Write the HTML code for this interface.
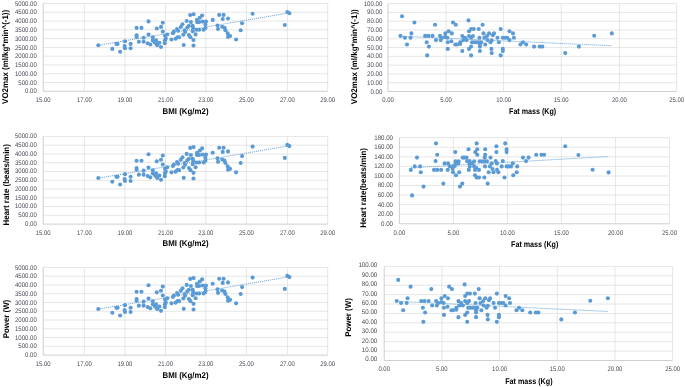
<!DOCTYPE html>
<html lang="en"><head><meta charset="utf-8"><title>Scatter plots</title>
<style>html,body{margin:0;padding:0;background:#fff}body{width:685px;height:387px;overflow:hidden}svg{display:block}text{text-rendering:geometricPrecision}.tk{font-family:"Liberation Sans",sans-serif;font-size:67px;fill:#474c55}.tt{font-family:"Liberation Sans",sans-serif;font-size:8.3px;font-weight:bold;fill:#000000}.gr{stroke:#DDDDDD;stroke-width:0.75;fill:none}.ax{stroke:#BFBFBF;stroke-width:0.75;fill:none}.pt{fill:#5B9BD5}.tl{stroke:#5B9BD5;stroke-width:0.95;stroke-dasharray:1 1;stroke-linecap:butt;fill:none}</style></head><body>
<svg width="685" height="387" viewBox="0 0 685 387">
<rect width="685" height="387" fill="#fff"/>
<g>
<line class="ax" x1="43.20" y1="91.30" x2="327.70" y2="91.30"/>
<line class="gr" x1="43.20" y1="82.52" x2="327.70" y2="82.52"/>
<line class="gr" x1="43.20" y1="73.74" x2="327.70" y2="73.74"/>
<line class="gr" x1="43.20" y1="64.96" x2="327.70" y2="64.96"/>
<line class="gr" x1="43.20" y1="56.18" x2="327.70" y2="56.18"/>
<line class="gr" x1="43.20" y1="47.40" x2="327.70" y2="47.40"/>
<line class="gr" x1="43.20" y1="38.62" x2="327.70" y2="38.62"/>
<line class="gr" x1="43.20" y1="29.84" x2="327.70" y2="29.84"/>
<line class="gr" x1="43.20" y1="21.06" x2="327.70" y2="21.06"/>
<line class="gr" x1="43.20" y1="12.28" x2="327.70" y2="12.28"/>
<line class="gr" x1="43.20" y1="3.50" x2="327.70" y2="3.50"/>
<line class="ax" x1="43.20" y1="3.50" x2="43.20" y2="91.30"/>
<line class="gr" x1="84.40" y1="3.50" x2="84.40" y2="91.30"/>
<line class="gr" x1="124.90" y1="3.50" x2="124.90" y2="91.30"/>
<line class="gr" x1="165.50" y1="3.50" x2="165.50" y2="91.30"/>
<line class="gr" x1="205.80" y1="3.50" x2="205.80" y2="91.30"/>
<line class="gr" x1="246.40" y1="3.50" x2="246.40" y2="91.30"/>
<line class="gr" x1="287.40" y1="3.50" x2="287.40" y2="91.30"/>
<line class="gr" x1="327.70" y1="3.50" x2="327.70" y2="91.30"/>
<text class="tk" text-anchor="end" transform="translate(36.80 93.40) scale(0.0900 0.1)">0.00</text>
<text class="tk" text-anchor="end" transform="translate(36.80 84.62) scale(0.0900 0.1)">500.00</text>
<text class="tk" text-anchor="end" transform="translate(36.80 75.84) scale(0.0900 0.1)">1000.00</text>
<text class="tk" text-anchor="end" transform="translate(36.80 67.06) scale(0.0900 0.1)">1500.00</text>
<text class="tk" text-anchor="end" transform="translate(36.80 58.28) scale(0.0900 0.1)">2000.00</text>
<text class="tk" text-anchor="end" transform="translate(36.80 49.50) scale(0.0900 0.1)">2500.00</text>
<text class="tk" text-anchor="end" transform="translate(36.80 40.72) scale(0.0900 0.1)">3000.00</text>
<text class="tk" text-anchor="end" transform="translate(36.80 31.94) scale(0.0900 0.1)">3500.00</text>
<text class="tk" text-anchor="end" transform="translate(36.80 23.16) scale(0.0900 0.1)">4000.00</text>
<text class="tk" text-anchor="end" transform="translate(36.80 14.38) scale(0.0900 0.1)">4500.00</text>
<text class="tk" text-anchor="end" transform="translate(36.80 5.60) scale(0.0900 0.1)">5000.00</text>
<text class="tk" text-anchor="middle" transform="translate(43.20 101.80) scale(0.0890 0.1)">15.00</text>
<text class="tk" text-anchor="middle" transform="translate(84.40 101.80) scale(0.0890 0.1)">17.00</text>
<text class="tk" text-anchor="middle" transform="translate(124.90 101.80) scale(0.0890 0.1)">19.00</text>
<text class="tk" text-anchor="middle" transform="translate(165.50 101.80) scale(0.0890 0.1)">21.00</text>
<text class="tk" text-anchor="middle" transform="translate(205.80 101.80) scale(0.0890 0.1)">23.00</text>
<text class="tk" text-anchor="middle" transform="translate(246.40 101.80) scale(0.0890 0.1)">25.00</text>
<text class="tk" text-anchor="middle" transform="translate(287.40 101.80) scale(0.0890 0.1)">27.00</text>
<text class="tk" text-anchor="middle" transform="translate(327.70 101.80) scale(0.0890 0.1)">29.00</text>
<text class="tt" x="162.60" y="113.90" textLength="46.00" lengthAdjust="spacingAndGlyphs">BMI (Kg/m2)</text>
<text class="tt" transform="translate(8.00 56.90) rotate(-90)" x="-47.00" y="0" textLength="94.00" lengthAdjust="spacingAndGlyphs">VO2max (ml/kg*min^(-1))</text>
<line class="tl" x1="98.30" y1="45.30" x2="289.20" y2="12.90"/>
<circle class="pt" cx="98.30" cy="45.20" r="2.05"/>
<circle class="pt" cx="112.30" cy="48.90" r="2.05"/>
<circle class="pt" cx="116.40" cy="43.90" r="2.05"/>
<circle class="pt" cx="117.60" cy="43.90" r="2.05"/>
<circle class="pt" cx="120.10" cy="51.70" r="2.05"/>
<circle class="pt" cx="125.00" cy="41.30" r="2.05"/>
<circle class="pt" cx="124.60" cy="46.10" r="2.05"/>
<circle class="pt" cx="125.00" cy="48.20" r="2.05"/>
<circle class="pt" cx="130.60" cy="43.90" r="2.05"/>
<circle class="pt" cx="130.60" cy="48.20" r="2.05"/>
<circle class="pt" cx="136.60" cy="27.90" r="2.05"/>
<circle class="pt" cx="141.50" cy="27.90" r="2.05"/>
<circle class="pt" cx="136.60" cy="35.20" r="2.05"/>
<circle class="pt" cx="136.60" cy="36.90" r="2.05"/>
<circle class="pt" cx="138.90" cy="41.80" r="2.05"/>
<circle class="pt" cx="143.60" cy="37.80" r="2.05"/>
<circle class="pt" cx="143.60" cy="41.80" r="2.05"/>
<circle class="pt" cx="148.50" cy="21.40" r="2.05"/>
<circle class="pt" cx="148.50" cy="34.60" r="2.05"/>
<circle class="pt" cx="147.70" cy="43.20" r="2.05"/>
<circle class="pt" cx="150.30" cy="44.50" r="2.05"/>
<circle class="pt" cx="152.80" cy="37.40" r="2.05"/>
<circle class="pt" cx="152.80" cy="40.40" r="2.05"/>
<circle class="pt" cx="154.70" cy="42.20" r="2.05"/>
<circle class="pt" cx="156.10" cy="40.40" r="2.05"/>
<circle class="pt" cx="156.40" cy="43.90" r="2.05"/>
<circle class="pt" cx="157.30" cy="45.20" r="2.05"/>
<circle class="pt" cx="159.40" cy="42.70" r="2.05"/>
<circle class="pt" cx="161.00" cy="47.00" r="2.05"/>
<circle class="pt" cx="156.80" cy="28.50" r="2.05"/>
<circle class="pt" cx="161.00" cy="26.90" r="2.05"/>
<circle class="pt" cx="162.80" cy="22.70" r="2.05"/>
<circle class="pt" cx="162.80" cy="31.60" r="2.05"/>
<circle class="pt" cx="165.00" cy="35.80" r="2.05"/>
<circle class="pt" cx="167.20" cy="34.50" r="2.05"/>
<circle class="pt" cx="165.80" cy="38.60" r="2.05"/>
<circle class="pt" cx="165.00" cy="40.30" r="2.05"/>
<circle class="pt" cx="164.80" cy="43.30" r="2.05"/>
<circle class="pt" cx="171.50" cy="39.50" r="2.05"/>
<circle class="pt" cx="172.90" cy="33.20" r="2.05"/>
<circle class="pt" cx="173.80" cy="31.60" r="2.05"/>
<circle class="pt" cx="175.60" cy="38.80" r="2.05"/>
<circle class="pt" cx="177.50" cy="37.30" r="2.05"/>
<circle class="pt" cx="179.10" cy="37.30" r="2.05"/>
<circle class="pt" cx="177.00" cy="29.10" r="2.05"/>
<circle class="pt" cx="178.10" cy="30.80" r="2.05"/>
<circle class="pt" cx="180.80" cy="27.00" r="2.05"/>
<circle class="pt" cx="182.50" cy="24.30" r="2.05"/>
<circle class="pt" cx="183.30" cy="34.70" r="2.05"/>
<circle class="pt" cx="183.70" cy="45.00" r="2.05"/>
<circle class="pt" cx="184.60" cy="30.20" r="2.05"/>
<circle class="pt" cx="185.10" cy="31.90" r="2.05"/>
<circle class="pt" cx="186.70" cy="21.00" r="2.05"/>
<circle class="pt" cx="187.30" cy="27.50" r="2.05"/>
<circle class="pt" cx="188.90" cy="25.90" r="2.05"/>
<circle class="pt" cx="188.90" cy="35.10" r="2.05"/>
<circle class="pt" cx="190.50" cy="37.30" r="2.05"/>
<circle class="pt" cx="190.20" cy="15.00" r="2.05"/>
<circle class="pt" cx="193.60" cy="14.20" r="2.05"/>
<circle class="pt" cx="190.90" cy="22.10" r="2.05"/>
<circle class="pt" cx="192.70" cy="25.90" r="2.05"/>
<circle class="pt" cx="193.20" cy="28.10" r="2.05"/>
<circle class="pt" cx="192.70" cy="31.30" r="2.05"/>
<circle class="pt" cx="193.50" cy="40.00" r="2.05"/>
<circle class="pt" cx="193.50" cy="45.60" r="2.05"/>
<circle class="pt" cx="195.60" cy="34.40" r="2.05"/>
<circle class="pt" cx="196.50" cy="29.70" r="2.05"/>
<circle class="pt" cx="197.00" cy="19.90" r="2.05"/>
<circle class="pt" cx="197.00" cy="22.10" r="2.05"/>
<circle class="pt" cx="199.20" cy="29.70" r="2.05"/>
<circle class="pt" cx="199.80" cy="17.70" r="2.05"/>
<circle class="pt" cx="199.20" cy="22.10" r="2.05"/>
<circle class="pt" cx="202.10" cy="15.50" r="2.05"/>
<circle class="pt" cx="202.70" cy="21.60" r="2.05"/>
<circle class="pt" cx="203.60" cy="29.70" r="2.05"/>
<circle class="pt" cx="205.40" cy="28.00" r="2.05"/>
<circle class="pt" cx="205.40" cy="24.50" r="2.05"/>
<circle class="pt" cx="206.00" cy="21.60" r="2.05"/>
<circle class="pt" cx="212.70" cy="19.90" r="2.05"/>
<circle class="pt" cx="217.50" cy="25.50" r="2.05"/>
<circle class="pt" cx="218.00" cy="29.00" r="2.05"/>
<circle class="pt" cx="219.20" cy="14.90" r="2.05"/>
<circle class="pt" cx="223.60" cy="14.90" r="2.05"/>
<circle class="pt" cx="222.70" cy="19.00" r="2.05"/>
<circle class="pt" cx="228.00" cy="18.50" r="2.05"/>
<circle class="pt" cx="222.20" cy="26.70" r="2.05"/>
<circle class="pt" cx="224.50" cy="27.80" r="2.05"/>
<circle class="pt" cx="225.40" cy="30.20" r="2.05"/>
<circle class="pt" cx="227.70" cy="33.40" r="2.05"/>
<circle class="pt" cx="228.00" cy="36.90" r="2.05"/>
<circle class="pt" cx="230.10" cy="36.00" r="2.05"/>
<circle class="pt" cx="236.10" cy="39.50" r="2.05"/>
<circle class="pt" cx="240.70" cy="30.20" r="2.05"/>
<circle class="pt" cx="242.10" cy="23.20" r="2.05"/>
<circle class="pt" cx="252.60" cy="13.70" r="2.05"/>
<circle class="pt" cx="287.30" cy="12.00" r="2.05"/>
<circle class="pt" cx="289.40" cy="13.20" r="2.05"/>
<circle class="pt" cx="284.80" cy="25.00" r="2.05"/>
</g>
<g>
<line class="ax" x1="43.20" y1="224.10" x2="327.70" y2="224.10"/>
<line class="gr" x1="43.20" y1="215.33" x2="327.70" y2="215.33"/>
<line class="gr" x1="43.20" y1="206.56" x2="327.70" y2="206.56"/>
<line class="gr" x1="43.20" y1="197.79" x2="327.70" y2="197.79"/>
<line class="gr" x1="43.20" y1="189.02" x2="327.70" y2="189.02"/>
<line class="gr" x1="43.20" y1="180.25" x2="327.70" y2="180.25"/>
<line class="gr" x1="43.20" y1="171.48" x2="327.70" y2="171.48"/>
<line class="gr" x1="43.20" y1="162.71" x2="327.70" y2="162.71"/>
<line class="gr" x1="43.20" y1="153.94" x2="327.70" y2="153.94"/>
<line class="gr" x1="43.20" y1="145.17" x2="327.70" y2="145.17"/>
<line class="gr" x1="43.20" y1="136.40" x2="327.70" y2="136.40"/>
<line class="ax" x1="43.20" y1="136.40" x2="43.20" y2="224.10"/>
<line class="gr" x1="84.40" y1="136.40" x2="84.40" y2="224.10"/>
<line class="gr" x1="124.90" y1="136.40" x2="124.90" y2="224.10"/>
<line class="gr" x1="165.50" y1="136.40" x2="165.50" y2="224.10"/>
<line class="gr" x1="205.80" y1="136.40" x2="205.80" y2="224.10"/>
<line class="gr" x1="246.40" y1="136.40" x2="246.40" y2="224.10"/>
<line class="gr" x1="287.40" y1="136.40" x2="287.40" y2="224.10"/>
<line class="gr" x1="327.70" y1="136.40" x2="327.70" y2="224.10"/>
<text class="tk" text-anchor="end" transform="translate(36.80 226.00) scale(0.0900 0.1)">0.00</text>
<text class="tk" text-anchor="end" transform="translate(36.80 217.23) scale(0.0900 0.1)">500.00</text>
<text class="tk" text-anchor="end" transform="translate(36.80 208.46) scale(0.0900 0.1)">1000.00</text>
<text class="tk" text-anchor="end" transform="translate(36.80 199.69) scale(0.0900 0.1)">1500.00</text>
<text class="tk" text-anchor="end" transform="translate(36.80 190.92) scale(0.0900 0.1)">2000.00</text>
<text class="tk" text-anchor="end" transform="translate(36.80 182.15) scale(0.0900 0.1)">2500.00</text>
<text class="tk" text-anchor="end" transform="translate(36.80 173.38) scale(0.0900 0.1)">3000.00</text>
<text class="tk" text-anchor="end" transform="translate(36.80 164.61) scale(0.0900 0.1)">3500.00</text>
<text class="tk" text-anchor="end" transform="translate(36.80 155.84) scale(0.0900 0.1)">4000.00</text>
<text class="tk" text-anchor="end" transform="translate(36.80 147.07) scale(0.0900 0.1)">4500.00</text>
<text class="tk" text-anchor="end" transform="translate(36.80 138.30) scale(0.0900 0.1)">5000.00</text>
<text class="tk" text-anchor="middle" transform="translate(43.20 234.50) scale(0.0890 0.1)">15.00</text>
<text class="tk" text-anchor="middle" transform="translate(84.40 234.50) scale(0.0890 0.1)">17.00</text>
<text class="tk" text-anchor="middle" transform="translate(124.90 234.50) scale(0.0890 0.1)">19.00</text>
<text class="tk" text-anchor="middle" transform="translate(165.50 234.50) scale(0.0890 0.1)">21.00</text>
<text class="tk" text-anchor="middle" transform="translate(205.80 234.50) scale(0.0890 0.1)">23.00</text>
<text class="tk" text-anchor="middle" transform="translate(246.40 234.50) scale(0.0890 0.1)">25.00</text>
<text class="tk" text-anchor="middle" transform="translate(287.40 234.50) scale(0.0890 0.1)">27.00</text>
<text class="tk" text-anchor="middle" transform="translate(327.70 234.50) scale(0.0890 0.1)">29.00</text>
<text class="tt" x="162.60" y="246.30" textLength="46.00" lengthAdjust="spacingAndGlyphs">BMI (Kg/m2)</text>
<text class="tt" transform="translate(8.80 184.90) rotate(-90)" x="-40.70" y="0" textLength="81.40" lengthAdjust="spacingAndGlyphs">Heart rate (beats/min)</text>
<line class="tl" x1="98.30" y1="178.15" x2="289.20" y2="145.79"/>
<circle class="pt" cx="98.30" cy="178.05" r="2.05"/>
<circle class="pt" cx="112.30" cy="181.75" r="2.05"/>
<circle class="pt" cx="116.40" cy="176.75" r="2.05"/>
<circle class="pt" cx="117.60" cy="176.75" r="2.05"/>
<circle class="pt" cx="120.10" cy="184.55" r="2.05"/>
<circle class="pt" cx="125.00" cy="174.16" r="2.05"/>
<circle class="pt" cx="124.60" cy="178.95" r="2.05"/>
<circle class="pt" cx="125.00" cy="181.05" r="2.05"/>
<circle class="pt" cx="130.60" cy="176.75" r="2.05"/>
<circle class="pt" cx="130.60" cy="181.05" r="2.05"/>
<circle class="pt" cx="136.60" cy="160.77" r="2.05"/>
<circle class="pt" cx="141.50" cy="160.77" r="2.05"/>
<circle class="pt" cx="136.60" cy="168.06" r="2.05"/>
<circle class="pt" cx="136.60" cy="169.76" r="2.05"/>
<circle class="pt" cx="138.90" cy="174.66" r="2.05"/>
<circle class="pt" cx="143.60" cy="170.66" r="2.05"/>
<circle class="pt" cx="143.60" cy="174.66" r="2.05"/>
<circle class="pt" cx="148.50" cy="154.28" r="2.05"/>
<circle class="pt" cx="148.50" cy="167.46" r="2.05"/>
<circle class="pt" cx="147.70" cy="176.05" r="2.05"/>
<circle class="pt" cx="150.30" cy="177.35" r="2.05"/>
<circle class="pt" cx="152.80" cy="170.26" r="2.05"/>
<circle class="pt" cx="152.80" cy="173.26" r="2.05"/>
<circle class="pt" cx="154.70" cy="175.06" r="2.05"/>
<circle class="pt" cx="156.10" cy="173.26" r="2.05"/>
<circle class="pt" cx="156.40" cy="176.75" r="2.05"/>
<circle class="pt" cx="157.30" cy="178.05" r="2.05"/>
<circle class="pt" cx="159.40" cy="175.56" r="2.05"/>
<circle class="pt" cx="161.00" cy="179.85" r="2.05"/>
<circle class="pt" cx="156.80" cy="161.37" r="2.05"/>
<circle class="pt" cx="161.00" cy="159.77" r="2.05"/>
<circle class="pt" cx="162.80" cy="155.58" r="2.05"/>
<circle class="pt" cx="162.80" cy="164.47" r="2.05"/>
<circle class="pt" cx="165.00" cy="168.66" r="2.05"/>
<circle class="pt" cx="167.20" cy="167.36" r="2.05"/>
<circle class="pt" cx="165.80" cy="171.46" r="2.05"/>
<circle class="pt" cx="165.00" cy="173.16" r="2.05"/>
<circle class="pt" cx="164.80" cy="176.15" r="2.05"/>
<circle class="pt" cx="171.50" cy="172.36" r="2.05"/>
<circle class="pt" cx="172.90" cy="166.07" r="2.05"/>
<circle class="pt" cx="173.80" cy="164.47" r="2.05"/>
<circle class="pt" cx="175.60" cy="171.66" r="2.05"/>
<circle class="pt" cx="177.50" cy="170.16" r="2.05"/>
<circle class="pt" cx="179.10" cy="170.16" r="2.05"/>
<circle class="pt" cx="177.00" cy="161.97" r="2.05"/>
<circle class="pt" cx="178.10" cy="163.67" r="2.05"/>
<circle class="pt" cx="180.80" cy="159.87" r="2.05"/>
<circle class="pt" cx="182.50" cy="157.18" r="2.05"/>
<circle class="pt" cx="183.30" cy="167.56" r="2.05"/>
<circle class="pt" cx="183.70" cy="177.85" r="2.05"/>
<circle class="pt" cx="184.60" cy="163.07" r="2.05"/>
<circle class="pt" cx="185.10" cy="164.77" r="2.05"/>
<circle class="pt" cx="186.70" cy="153.88" r="2.05"/>
<circle class="pt" cx="187.30" cy="160.37" r="2.05"/>
<circle class="pt" cx="188.90" cy="158.77" r="2.05"/>
<circle class="pt" cx="188.90" cy="167.96" r="2.05"/>
<circle class="pt" cx="190.50" cy="170.16" r="2.05"/>
<circle class="pt" cx="190.20" cy="147.89" r="2.05"/>
<circle class="pt" cx="193.60" cy="147.09" r="2.05"/>
<circle class="pt" cx="190.90" cy="154.98" r="2.05"/>
<circle class="pt" cx="192.70" cy="158.77" r="2.05"/>
<circle class="pt" cx="193.20" cy="160.97" r="2.05"/>
<circle class="pt" cx="192.70" cy="164.17" r="2.05"/>
<circle class="pt" cx="193.50" cy="172.86" r="2.05"/>
<circle class="pt" cx="193.50" cy="178.45" r="2.05"/>
<circle class="pt" cx="195.60" cy="167.26" r="2.05"/>
<circle class="pt" cx="196.50" cy="162.57" r="2.05"/>
<circle class="pt" cx="197.00" cy="152.78" r="2.05"/>
<circle class="pt" cx="197.00" cy="154.98" r="2.05"/>
<circle class="pt" cx="199.20" cy="162.57" r="2.05"/>
<circle class="pt" cx="199.80" cy="150.58" r="2.05"/>
<circle class="pt" cx="199.20" cy="154.98" r="2.05"/>
<circle class="pt" cx="202.10" cy="148.39" r="2.05"/>
<circle class="pt" cx="202.70" cy="154.48" r="2.05"/>
<circle class="pt" cx="203.60" cy="162.57" r="2.05"/>
<circle class="pt" cx="205.40" cy="160.87" r="2.05"/>
<circle class="pt" cx="205.40" cy="157.38" r="2.05"/>
<circle class="pt" cx="206.00" cy="154.48" r="2.05"/>
<circle class="pt" cx="212.70" cy="152.78" r="2.05"/>
<circle class="pt" cx="217.50" cy="158.37" r="2.05"/>
<circle class="pt" cx="218.00" cy="161.87" r="2.05"/>
<circle class="pt" cx="219.20" cy="147.79" r="2.05"/>
<circle class="pt" cx="223.60" cy="147.79" r="2.05"/>
<circle class="pt" cx="222.70" cy="151.88" r="2.05"/>
<circle class="pt" cx="228.00" cy="151.38" r="2.05"/>
<circle class="pt" cx="222.20" cy="159.57" r="2.05"/>
<circle class="pt" cx="224.50" cy="160.67" r="2.05"/>
<circle class="pt" cx="225.40" cy="163.07" r="2.05"/>
<circle class="pt" cx="227.70" cy="166.27" r="2.05"/>
<circle class="pt" cx="228.00" cy="169.76" r="2.05"/>
<circle class="pt" cx="230.10" cy="168.86" r="2.05"/>
<circle class="pt" cx="236.10" cy="172.36" r="2.05"/>
<circle class="pt" cx="240.70" cy="163.07" r="2.05"/>
<circle class="pt" cx="242.10" cy="156.08" r="2.05"/>
<circle class="pt" cx="252.60" cy="146.59" r="2.05"/>
<circle class="pt" cx="287.30" cy="144.89" r="2.05"/>
<circle class="pt" cx="289.40" cy="146.09" r="2.05"/>
<circle class="pt" cx="284.80" cy="157.88" r="2.05"/>
</g>
<g>
<line class="ax" x1="43.20" y1="355.10" x2="327.70" y2="355.10"/>
<line class="gr" x1="43.20" y1="346.33" x2="327.70" y2="346.33"/>
<line class="gr" x1="43.20" y1="337.56" x2="327.70" y2="337.56"/>
<line class="gr" x1="43.20" y1="328.79" x2="327.70" y2="328.79"/>
<line class="gr" x1="43.20" y1="320.02" x2="327.70" y2="320.02"/>
<line class="gr" x1="43.20" y1="311.25" x2="327.70" y2="311.25"/>
<line class="gr" x1="43.20" y1="302.48" x2="327.70" y2="302.48"/>
<line class="gr" x1="43.20" y1="293.71" x2="327.70" y2="293.71"/>
<line class="gr" x1="43.20" y1="284.94" x2="327.70" y2="284.94"/>
<line class="gr" x1="43.20" y1="276.17" x2="327.70" y2="276.17"/>
<line class="gr" x1="43.20" y1="267.40" x2="327.70" y2="267.40"/>
<line class="ax" x1="43.20" y1="267.40" x2="43.20" y2="355.10"/>
<line class="gr" x1="84.40" y1="267.40" x2="84.40" y2="355.10"/>
<line class="gr" x1="124.90" y1="267.40" x2="124.90" y2="355.10"/>
<line class="gr" x1="165.50" y1="267.40" x2="165.50" y2="355.10"/>
<line class="gr" x1="205.80" y1="267.40" x2="205.80" y2="355.10"/>
<line class="gr" x1="246.40" y1="267.40" x2="246.40" y2="355.10"/>
<line class="gr" x1="287.40" y1="267.40" x2="287.40" y2="355.10"/>
<line class="gr" x1="327.70" y1="267.40" x2="327.70" y2="355.10"/>
<text class="tk" text-anchor="end" transform="translate(36.80 357.20) scale(0.0900 0.1)">0.00</text>
<text class="tk" text-anchor="end" transform="translate(36.80 348.43) scale(0.0900 0.1)">500.00</text>
<text class="tk" text-anchor="end" transform="translate(36.80 339.66) scale(0.0900 0.1)">1000.00</text>
<text class="tk" text-anchor="end" transform="translate(36.80 330.89) scale(0.0900 0.1)">1500.00</text>
<text class="tk" text-anchor="end" transform="translate(36.80 322.12) scale(0.0900 0.1)">2000.00</text>
<text class="tk" text-anchor="end" transform="translate(36.80 313.35) scale(0.0900 0.1)">2500.00</text>
<text class="tk" text-anchor="end" transform="translate(36.80 304.58) scale(0.0900 0.1)">3000.00</text>
<text class="tk" text-anchor="end" transform="translate(36.80 295.81) scale(0.0900 0.1)">3500.00</text>
<text class="tk" text-anchor="end" transform="translate(36.80 287.04) scale(0.0900 0.1)">4000.00</text>
<text class="tk" text-anchor="end" transform="translate(36.80 278.27) scale(0.0900 0.1)">4500.00</text>
<text class="tk" text-anchor="end" transform="translate(36.80 269.50) scale(0.0900 0.1)">5000.00</text>
<text class="tk" text-anchor="middle" transform="translate(43.20 365.80) scale(0.0890 0.1)">15.00</text>
<text class="tk" text-anchor="middle" transform="translate(84.40 365.80) scale(0.0890 0.1)">17.00</text>
<text class="tk" text-anchor="middle" transform="translate(124.90 365.80) scale(0.0890 0.1)">19.00</text>
<text class="tk" text-anchor="middle" transform="translate(165.50 365.80) scale(0.0890 0.1)">21.00</text>
<text class="tk" text-anchor="middle" transform="translate(205.80 365.80) scale(0.0890 0.1)">23.00</text>
<text class="tk" text-anchor="middle" transform="translate(246.40 365.80) scale(0.0890 0.1)">25.00</text>
<text class="tk" text-anchor="middle" transform="translate(287.40 365.80) scale(0.0890 0.1)">27.00</text>
<text class="tk" text-anchor="middle" transform="translate(327.70 365.80) scale(0.0890 0.1)">29.00</text>
<text class="tt" x="162.60" y="377.90" textLength="46.00" lengthAdjust="spacingAndGlyphs">BMI (Kg/m2)</text>
<text class="tt" transform="translate(8.80 319.00) rotate(-90)" x="-19.20" y="0" textLength="38.40" lengthAdjust="spacingAndGlyphs">Power (W)</text>
<line class="tl" x1="98.30" y1="309.15" x2="289.20" y2="276.79"/>
<circle class="pt" cx="98.30" cy="309.05" r="2.05"/>
<circle class="pt" cx="112.30" cy="312.75" r="2.05"/>
<circle class="pt" cx="116.40" cy="307.75" r="2.05"/>
<circle class="pt" cx="117.60" cy="307.75" r="2.05"/>
<circle class="pt" cx="120.10" cy="315.55" r="2.05"/>
<circle class="pt" cx="125.00" cy="305.16" r="2.05"/>
<circle class="pt" cx="124.60" cy="309.95" r="2.05"/>
<circle class="pt" cx="125.00" cy="312.05" r="2.05"/>
<circle class="pt" cx="130.60" cy="307.75" r="2.05"/>
<circle class="pt" cx="130.60" cy="312.05" r="2.05"/>
<circle class="pt" cx="136.60" cy="291.77" r="2.05"/>
<circle class="pt" cx="141.50" cy="291.77" r="2.05"/>
<circle class="pt" cx="136.60" cy="299.06" r="2.05"/>
<circle class="pt" cx="136.60" cy="300.76" r="2.05"/>
<circle class="pt" cx="138.90" cy="305.66" r="2.05"/>
<circle class="pt" cx="143.60" cy="301.66" r="2.05"/>
<circle class="pt" cx="143.60" cy="305.66" r="2.05"/>
<circle class="pt" cx="148.50" cy="285.28" r="2.05"/>
<circle class="pt" cx="148.50" cy="298.46" r="2.05"/>
<circle class="pt" cx="147.70" cy="307.05" r="2.05"/>
<circle class="pt" cx="150.30" cy="308.35" r="2.05"/>
<circle class="pt" cx="152.80" cy="301.26" r="2.05"/>
<circle class="pt" cx="152.80" cy="304.26" r="2.05"/>
<circle class="pt" cx="154.70" cy="306.06" r="2.05"/>
<circle class="pt" cx="156.10" cy="304.26" r="2.05"/>
<circle class="pt" cx="156.40" cy="307.75" r="2.05"/>
<circle class="pt" cx="157.30" cy="309.05" r="2.05"/>
<circle class="pt" cx="159.40" cy="306.56" r="2.05"/>
<circle class="pt" cx="161.00" cy="310.85" r="2.05"/>
<circle class="pt" cx="156.80" cy="292.37" r="2.05"/>
<circle class="pt" cx="161.00" cy="290.77" r="2.05"/>
<circle class="pt" cx="162.80" cy="286.58" r="2.05"/>
<circle class="pt" cx="162.80" cy="295.47" r="2.05"/>
<circle class="pt" cx="165.00" cy="299.66" r="2.05"/>
<circle class="pt" cx="167.20" cy="298.36" r="2.05"/>
<circle class="pt" cx="165.80" cy="302.46" r="2.05"/>
<circle class="pt" cx="165.00" cy="304.16" r="2.05"/>
<circle class="pt" cx="164.80" cy="307.15" r="2.05"/>
<circle class="pt" cx="171.50" cy="303.36" r="2.05"/>
<circle class="pt" cx="172.90" cy="297.07" r="2.05"/>
<circle class="pt" cx="173.80" cy="295.47" r="2.05"/>
<circle class="pt" cx="175.60" cy="302.66" r="2.05"/>
<circle class="pt" cx="177.50" cy="301.16" r="2.05"/>
<circle class="pt" cx="179.10" cy="301.16" r="2.05"/>
<circle class="pt" cx="177.00" cy="292.97" r="2.05"/>
<circle class="pt" cx="178.10" cy="294.67" r="2.05"/>
<circle class="pt" cx="180.80" cy="290.87" r="2.05"/>
<circle class="pt" cx="182.50" cy="288.18" r="2.05"/>
<circle class="pt" cx="183.30" cy="298.56" r="2.05"/>
<circle class="pt" cx="183.70" cy="308.85" r="2.05"/>
<circle class="pt" cx="184.60" cy="294.07" r="2.05"/>
<circle class="pt" cx="185.10" cy="295.77" r="2.05"/>
<circle class="pt" cx="186.70" cy="284.88" r="2.05"/>
<circle class="pt" cx="187.30" cy="291.37" r="2.05"/>
<circle class="pt" cx="188.90" cy="289.77" r="2.05"/>
<circle class="pt" cx="188.90" cy="298.96" r="2.05"/>
<circle class="pt" cx="190.50" cy="301.16" r="2.05"/>
<circle class="pt" cx="190.20" cy="278.89" r="2.05"/>
<circle class="pt" cx="193.60" cy="278.09" r="2.05"/>
<circle class="pt" cx="190.90" cy="285.98" r="2.05"/>
<circle class="pt" cx="192.70" cy="289.77" r="2.05"/>
<circle class="pt" cx="193.20" cy="291.97" r="2.05"/>
<circle class="pt" cx="192.70" cy="295.17" r="2.05"/>
<circle class="pt" cx="193.50" cy="303.86" r="2.05"/>
<circle class="pt" cx="193.50" cy="309.45" r="2.05"/>
<circle class="pt" cx="195.60" cy="298.26" r="2.05"/>
<circle class="pt" cx="196.50" cy="293.57" r="2.05"/>
<circle class="pt" cx="197.00" cy="283.78" r="2.05"/>
<circle class="pt" cx="197.00" cy="285.98" r="2.05"/>
<circle class="pt" cx="199.20" cy="293.57" r="2.05"/>
<circle class="pt" cx="199.80" cy="281.58" r="2.05"/>
<circle class="pt" cx="199.20" cy="285.98" r="2.05"/>
<circle class="pt" cx="202.10" cy="279.39" r="2.05"/>
<circle class="pt" cx="202.70" cy="285.48" r="2.05"/>
<circle class="pt" cx="203.60" cy="293.57" r="2.05"/>
<circle class="pt" cx="205.40" cy="291.87" r="2.05"/>
<circle class="pt" cx="205.40" cy="288.38" r="2.05"/>
<circle class="pt" cx="206.00" cy="285.48" r="2.05"/>
<circle class="pt" cx="212.70" cy="283.78" r="2.05"/>
<circle class="pt" cx="217.50" cy="289.37" r="2.05"/>
<circle class="pt" cx="218.00" cy="292.87" r="2.05"/>
<circle class="pt" cx="219.20" cy="278.79" r="2.05"/>
<circle class="pt" cx="223.60" cy="278.79" r="2.05"/>
<circle class="pt" cx="222.70" cy="282.88" r="2.05"/>
<circle class="pt" cx="228.00" cy="282.38" r="2.05"/>
<circle class="pt" cx="222.20" cy="290.57" r="2.05"/>
<circle class="pt" cx="224.50" cy="291.67" r="2.05"/>
<circle class="pt" cx="225.40" cy="294.07" r="2.05"/>
<circle class="pt" cx="227.70" cy="297.27" r="2.05"/>
<circle class="pt" cx="228.00" cy="300.76" r="2.05"/>
<circle class="pt" cx="230.10" cy="299.86" r="2.05"/>
<circle class="pt" cx="236.10" cy="303.36" r="2.05"/>
<circle class="pt" cx="240.70" cy="294.07" r="2.05"/>
<circle class="pt" cx="242.10" cy="287.08" r="2.05"/>
<circle class="pt" cx="252.60" cy="277.59" r="2.05"/>
<circle class="pt" cx="287.30" cy="275.89" r="2.05"/>
<circle class="pt" cx="289.40" cy="277.09" r="2.05"/>
<circle class="pt" cx="284.80" cy="288.88" r="2.05"/>
</g>
<g>
<line class="ax" x1="388.00" y1="91.50" x2="676.60" y2="91.50"/>
<line class="gr" x1="388.00" y1="82.71" x2="676.60" y2="82.71"/>
<line class="gr" x1="388.00" y1="73.92" x2="676.60" y2="73.92"/>
<line class="gr" x1="388.00" y1="65.13" x2="676.60" y2="65.13"/>
<line class="gr" x1="388.00" y1="56.34" x2="676.60" y2="56.34"/>
<line class="gr" x1="388.00" y1="47.55" x2="676.60" y2="47.55"/>
<line class="gr" x1="388.00" y1="38.76" x2="676.60" y2="38.76"/>
<line class="gr" x1="388.00" y1="29.97" x2="676.60" y2="29.97"/>
<line class="gr" x1="388.00" y1="21.18" x2="676.60" y2="21.18"/>
<line class="gr" x1="388.00" y1="12.39" x2="676.60" y2="12.39"/>
<line class="gr" x1="388.00" y1="3.60" x2="676.60" y2="3.60"/>
<line class="ax" x1="388.00" y1="3.60" x2="388.00" y2="91.50"/>
<line class="gr" x1="446.00" y1="3.60" x2="446.00" y2="91.50"/>
<line class="gr" x1="503.60" y1="3.60" x2="503.60" y2="91.50"/>
<line class="gr" x1="561.20" y1="3.60" x2="561.20" y2="91.50"/>
<line class="gr" x1="619.40" y1="3.60" x2="619.40" y2="91.50"/>
<line class="gr" x1="676.60" y1="3.60" x2="676.60" y2="91.50"/>
<text class="tk" text-anchor="end" transform="translate(382.40 93.60) scale(0.0915 0.1)">0.00</text>
<text class="tk" text-anchor="end" transform="translate(382.40 84.81) scale(0.0915 0.1)">10.00</text>
<text class="tk" text-anchor="end" transform="translate(382.40 76.02) scale(0.0915 0.1)">20.00</text>
<text class="tk" text-anchor="end" transform="translate(382.40 67.23) scale(0.0915 0.1)">30.00</text>
<text class="tk" text-anchor="end" transform="translate(382.40 58.44) scale(0.0915 0.1)">40.00</text>
<text class="tk" text-anchor="end" transform="translate(382.40 49.65) scale(0.0915 0.1)">50.00</text>
<text class="tk" text-anchor="end" transform="translate(382.40 40.86) scale(0.0915 0.1)">60.00</text>
<text class="tk" text-anchor="end" transform="translate(382.40 32.07) scale(0.0915 0.1)">70.00</text>
<text class="tk" text-anchor="end" transform="translate(382.40 23.28) scale(0.0915 0.1)">80.00</text>
<text class="tk" text-anchor="end" transform="translate(382.40 14.49) scale(0.0915 0.1)">90.00</text>
<text class="tk" text-anchor="end" transform="translate(382.40 5.70) scale(0.0915 0.1)">100.00</text>
<text class="tk" text-anchor="middle" transform="translate(388.00 101.60) scale(0.0890 0.1)">0.00</text>
<text class="tk" text-anchor="middle" transform="translate(446.00 101.60) scale(0.0890 0.1)">5.00</text>
<text class="tk" text-anchor="middle" transform="translate(503.60 101.60) scale(0.0890 0.1)">10.00</text>
<text class="tk" text-anchor="middle" transform="translate(561.20 101.60) scale(0.0890 0.1)">15.00</text>
<text class="tk" text-anchor="middle" transform="translate(619.40 101.60) scale(0.0890 0.1)">20.00</text>
<text class="tk" text-anchor="middle" transform="translate(676.60 101.60) scale(0.0890 0.1)">25.00</text>
<text class="tt" x="509.05" y="113.60" textLength="47.10" lengthAdjust="spacingAndGlyphs">Fat mass (Kg)</text>
<text class="tt" transform="translate(357.20 56.75) rotate(-90)" x="-47.45" y="0" textLength="94.90" lengthAdjust="spacingAndGlyphs">VO2max (ml/kg*min^(-1))</text>
<line class="tl" x1="400.50" y1="36.20" x2="611.50" y2="45.70"/>
<circle class="pt" cx="402.05" cy="16.20" r="2.05"/>
<circle class="pt" cx="414.40" cy="22.50" r="2.05"/>
<circle class="pt" cx="400.50" cy="35.90" r="2.05"/>
<circle class="pt" cx="404.90" cy="37.80" r="2.05"/>
<circle class="pt" cx="407.00" cy="44.50" r="2.05"/>
<circle class="pt" cx="411.40" cy="33.40" r="2.05"/>
<circle class="pt" cx="410.50" cy="37.80" r="2.05"/>
<circle class="pt" cx="425.10" cy="35.90" r="2.05"/>
<circle class="pt" cx="428.40" cy="35.90" r="2.05"/>
<circle class="pt" cx="426.70" cy="42.20" r="2.05"/>
<circle class="pt" cx="428.90" cy="46.60" r="2.05"/>
<circle class="pt" cx="427.20" cy="55.40" r="2.05"/>
<circle class="pt" cx="432.50" cy="35.90" r="2.05"/>
<circle class="pt" cx="435.10" cy="24.80" r="2.05"/>
<circle class="pt" cx="436.00" cy="40.10" r="2.05"/>
<circle class="pt" cx="440.00" cy="35.90" r="2.05"/>
<circle class="pt" cx="440.70" cy="40.10" r="2.05"/>
<circle class="pt" cx="442.10" cy="37.80" r="2.05"/>
<circle class="pt" cx="445.30" cy="33.40" r="2.05"/>
<circle class="pt" cx="445.30" cy="36.90" r="2.05"/>
<circle class="pt" cx="447.40" cy="37.80" r="2.05"/>
<circle class="pt" cx="448.60" cy="31.30" r="2.05"/>
<circle class="pt" cx="447.80" cy="42.20" r="2.05"/>
<circle class="pt" cx="447.80" cy="48.90" r="2.05"/>
<circle class="pt" cx="451.80" cy="33.40" r="2.05"/>
<circle class="pt" cx="451.40" cy="41.30" r="2.05"/>
<circle class="pt" cx="453.00" cy="22.50" r="2.05"/>
<circle class="pt" cx="455.80" cy="24.80" r="2.05"/>
<circle class="pt" cx="455.30" cy="44.50" r="2.05"/>
<circle class="pt" cx="457.00" cy="44.50" r="2.05"/>
<circle class="pt" cx="460.20" cy="42.20" r="2.05"/>
<circle class="pt" cx="460.20" cy="44.00" r="2.05"/>
<circle class="pt" cx="462.30" cy="36.00" r="2.05"/>
<circle class="pt" cx="463.20" cy="40.10" r="2.05"/>
<circle class="pt" cx="462.30" cy="51.00" r="2.05"/>
<circle class="pt" cx="465.00" cy="37.80" r="2.05"/>
<circle class="pt" cx="466.70" cy="40.10" r="2.05"/>
<circle class="pt" cx="468.50" cy="20.40" r="2.05"/>
<circle class="pt" cx="469.00" cy="31.30" r="2.05"/>
<circle class="pt" cx="469.00" cy="36.00" r="2.05"/>
<circle class="pt" cx="469.00" cy="48.90" r="2.05"/>
<circle class="pt" cx="471.10" cy="29.00" r="2.05"/>
<circle class="pt" cx="471.10" cy="37.80" r="2.05"/>
<circle class="pt" cx="471.10" cy="46.60" r="2.05"/>
<circle class="pt" cx="471.10" cy="55.40" r="2.05"/>
<circle class="pt" cx="472.00" cy="42.20" r="2.05"/>
<circle class="pt" cx="473.80" cy="29.00" r="2.05"/>
<circle class="pt" cx="472.90" cy="36.00" r="2.05"/>
<circle class="pt" cx="474.10" cy="42.20" r="2.05"/>
<circle class="pt" cx="476.40" cy="42.20" r="2.05"/>
<circle class="pt" cx="478.70" cy="42.20" r="2.05"/>
<circle class="pt" cx="481.20" cy="42.20" r="2.05"/>
<circle class="pt" cx="478.70" cy="29.00" r="2.05"/>
<circle class="pt" cx="482.60" cy="24.80" r="2.05"/>
<circle class="pt" cx="479.40" cy="37.80" r="2.05"/>
<circle class="pt" cx="479.90" cy="44.50" r="2.05"/>
<circle class="pt" cx="479.90" cy="46.60" r="2.05"/>
<circle class="pt" cx="479.90" cy="51.00" r="2.05"/>
<circle class="pt" cx="483.50" cy="33.40" r="2.05"/>
<circle class="pt" cx="484.30" cy="37.80" r="2.05"/>
<circle class="pt" cx="485.20" cy="44.50" r="2.05"/>
<circle class="pt" cx="487.00" cy="36.00" r="2.05"/>
<circle class="pt" cx="487.50" cy="40.10" r="2.05"/>
<circle class="pt" cx="489.10" cy="33.40" r="2.05"/>
<circle class="pt" cx="490.50" cy="42.20" r="2.05"/>
<circle class="pt" cx="491.70" cy="40.40" r="2.05"/>
<circle class="pt" cx="491.40" cy="48.90" r="2.05"/>
<circle class="pt" cx="491.70" cy="53.10" r="2.05"/>
<circle class="pt" cx="492.80" cy="35.20" r="2.05"/>
<circle class="pt" cx="494.00" cy="33.40" r="2.05"/>
<circle class="pt" cx="497.50" cy="37.80" r="2.05"/>
<circle class="pt" cx="498.90" cy="42.20" r="2.05"/>
<circle class="pt" cx="500.70" cy="29.00" r="2.05"/>
<circle class="pt" cx="500.70" cy="55.40" r="2.05"/>
<circle class="pt" cx="502.80" cy="48.90" r="2.05"/>
<circle class="pt" cx="502.80" cy="51.00" r="2.05"/>
<circle class="pt" cx="502.80" cy="37.80" r="2.05"/>
<circle class="pt" cx="505.10" cy="37.80" r="2.05"/>
<circle class="pt" cx="507.20" cy="37.80" r="2.05"/>
<circle class="pt" cx="509.50" cy="31.30" r="2.05"/>
<circle class="pt" cx="509.50" cy="40.10" r="2.05"/>
<circle class="pt" cx="513.00" cy="33.40" r="2.05"/>
<circle class="pt" cx="513.90" cy="37.80" r="2.05"/>
<circle class="pt" cx="520.40" cy="44.50" r="2.05"/>
<circle class="pt" cx="523.00" cy="42.20" r="2.05"/>
<circle class="pt" cx="526.20" cy="44.50" r="2.05"/>
<circle class="pt" cx="534.10" cy="46.60" r="2.05"/>
<circle class="pt" cx="539.70" cy="46.60" r="2.05"/>
<circle class="pt" cx="542.30" cy="46.60" r="2.05"/>
<circle class="pt" cx="565.20" cy="53.10" r="2.05"/>
<circle class="pt" cx="578.90" cy="46.60" r="2.05"/>
<circle class="pt" cx="594.20" cy="35.70" r="2.05"/>
<circle class="pt" cx="611.80" cy="33.40" r="2.05"/>
</g>
<g>
<line class="ax" x1="399.40" y1="223.80" x2="669.50" y2="223.80"/>
<line class="gr" x1="399.40" y1="214.23" x2="669.50" y2="214.23"/>
<line class="gr" x1="399.40" y1="204.67" x2="669.50" y2="204.67"/>
<line class="gr" x1="399.40" y1="195.10" x2="669.50" y2="195.10"/>
<line class="gr" x1="399.40" y1="185.53" x2="669.50" y2="185.53"/>
<line class="gr" x1="399.40" y1="175.97" x2="669.50" y2="175.97"/>
<line class="gr" x1="399.40" y1="166.40" x2="669.50" y2="166.40"/>
<line class="gr" x1="399.40" y1="156.83" x2="669.50" y2="156.83"/>
<line class="gr" x1="399.40" y1="147.27" x2="669.50" y2="147.27"/>
<line class="gr" x1="399.40" y1="137.70" x2="669.50" y2="137.70"/>
<line class="ax" x1="399.40" y1="137.70" x2="399.40" y2="223.80"/>
<line class="gr" x1="453.42" y1="137.70" x2="453.42" y2="223.80"/>
<line class="gr" x1="507.44" y1="137.70" x2="507.44" y2="223.80"/>
<line class="gr" x1="561.46" y1="137.70" x2="561.46" y2="223.80"/>
<line class="gr" x1="615.48" y1="137.70" x2="615.48" y2="223.80"/>
<line class="gr" x1="669.50" y1="137.70" x2="669.50" y2="223.80"/>
<text class="tk" text-anchor="end" transform="translate(393.00 225.70) scale(0.0915 0.1)">0.00</text>
<text class="tk" text-anchor="end" transform="translate(393.00 216.13) scale(0.0915 0.1)">20.00</text>
<text class="tk" text-anchor="end" transform="translate(393.00 206.57) scale(0.0915 0.1)">40.00</text>
<text class="tk" text-anchor="end" transform="translate(393.00 197.00) scale(0.0915 0.1)">60.00</text>
<text class="tk" text-anchor="end" transform="translate(393.00 187.43) scale(0.0915 0.1)">80.00</text>
<text class="tk" text-anchor="end" transform="translate(393.00 177.87) scale(0.0915 0.1)">100.00</text>
<text class="tk" text-anchor="end" transform="translate(393.00 168.30) scale(0.0915 0.1)">120.00</text>
<text class="tk" text-anchor="end" transform="translate(393.00 158.73) scale(0.0915 0.1)">140.00</text>
<text class="tk" text-anchor="end" transform="translate(393.00 149.17) scale(0.0915 0.1)">160.00</text>
<text class="tk" text-anchor="end" transform="translate(393.00 139.60) scale(0.0915 0.1)">180.00</text>
<text class="tk" text-anchor="middle" transform="translate(399.40 234.50) scale(0.0890 0.1)">0.00</text>
<text class="tk" text-anchor="middle" transform="translate(453.42 234.50) scale(0.0890 0.1)">5.00</text>
<text class="tk" text-anchor="middle" transform="translate(507.44 234.50) scale(0.0890 0.1)">10.00</text>
<text class="tk" text-anchor="middle" transform="translate(561.46 234.50) scale(0.0890 0.1)">15.00</text>
<text class="tk" text-anchor="middle" transform="translate(615.48 234.50) scale(0.0890 0.1)">20.00</text>
<text class="tk" text-anchor="middle" transform="translate(669.50 234.50) scale(0.0890 0.1)">25.00</text>
<text class="tt" x="511.05" y="246.70" textLength="47.30" lengthAdjust="spacingAndGlyphs">Fat mass (Kg)</text>
<text class="tt" transform="translate(366.00 187.90) rotate(-90)" x="-39.85" y="0" textLength="79.70" lengthAdjust="spacingAndGlyphs">Heart rate(beats/min)</text>
<line class="tl" x1="410.80" y1="167.80" x2="608.60" y2="156.50"/>
<circle class="pt" cx="412.05" cy="195.40" r="2.05"/>
<circle class="pt" cx="423.50" cy="186.60" r="2.05"/>
<circle class="pt" cx="410.80" cy="169.90" r="2.05"/>
<circle class="pt" cx="414.70" cy="166.40" r="2.05"/>
<circle class="pt" cx="417.00" cy="157.60" r="2.05"/>
<circle class="pt" cx="420.10" cy="166.40" r="2.05"/>
<circle class="pt" cx="420.80" cy="172.20" r="2.05"/>
<circle class="pt" cx="436.00" cy="143.40" r="2.05"/>
<circle class="pt" cx="437.20" cy="154.80" r="2.05"/>
<circle class="pt" cx="435.60" cy="161.10" r="2.05"/>
<circle class="pt" cx="434.00" cy="169.90" r="2.05"/>
<circle class="pt" cx="437.20" cy="169.90" r="2.05"/>
<circle class="pt" cx="441.10" cy="169.90" r="2.05"/>
<circle class="pt" cx="443.30" cy="183.60" r="2.05"/>
<circle class="pt" cx="444.60" cy="163.40" r="2.05"/>
<circle class="pt" cx="448.10" cy="163.40" r="2.05"/>
<circle class="pt" cx="447.70" cy="169.90" r="2.05"/>
<circle class="pt" cx="449.80" cy="166.40" r="2.05"/>
<circle class="pt" cx="452.70" cy="166.40" r="2.05"/>
<circle class="pt" cx="452.70" cy="169.00" r="2.05"/>
<circle class="pt" cx="453.00" cy="172.20" r="2.05"/>
<circle class="pt" cx="455.30" cy="152.10" r="2.05"/>
<circle class="pt" cx="455.60" cy="161.30" r="2.05"/>
<circle class="pt" cx="455.60" cy="163.40" r="2.05"/>
<circle class="pt" cx="454.80" cy="166.00" r="2.05"/>
<circle class="pt" cx="456.00" cy="175.20" r="2.05"/>
<circle class="pt" cx="458.60" cy="161.30" r="2.05"/>
<circle class="pt" cx="458.30" cy="163.40" r="2.05"/>
<circle class="pt" cx="459.20" cy="172.20" r="2.05"/>
<circle class="pt" cx="460.00" cy="186.60" r="2.05"/>
<circle class="pt" cx="462.30" cy="183.60" r="2.05"/>
<circle class="pt" cx="462.70" cy="157.60" r="2.05"/>
<circle class="pt" cx="464.40" cy="157.60" r="2.05"/>
<circle class="pt" cx="466.50" cy="157.60" r="2.05"/>
<circle class="pt" cx="467.10" cy="161.10" r="2.05"/>
<circle class="pt" cx="468.50" cy="149.30" r="2.05"/>
<circle class="pt" cx="469.70" cy="161.10" r="2.05"/>
<circle class="pt" cx="469.70" cy="163.40" r="2.05"/>
<circle class="pt" cx="469.70" cy="166.40" r="2.05"/>
<circle class="pt" cx="468.80" cy="169.90" r="2.05"/>
<circle class="pt" cx="472.30" cy="163.40" r="2.05"/>
<circle class="pt" cx="474.10" cy="161.30" r="2.05"/>
<circle class="pt" cx="474.10" cy="166.40" r="2.05"/>
<circle class="pt" cx="475.30" cy="152.10" r="2.05"/>
<circle class="pt" cx="476.70" cy="143.40" r="2.05"/>
<circle class="pt" cx="477.30" cy="149.30" r="2.05"/>
<circle class="pt" cx="477.30" cy="154.80" r="2.05"/>
<circle class="pt" cx="476.20" cy="167.80" r="2.05"/>
<circle class="pt" cx="475.00" cy="169.90" r="2.05"/>
<circle class="pt" cx="475.00" cy="175.20" r="2.05"/>
<circle class="pt" cx="476.70" cy="177.50" r="2.05"/>
<circle class="pt" cx="479.00" cy="177.50" r="2.05"/>
<circle class="pt" cx="479.00" cy="169.90" r="2.05"/>
<circle class="pt" cx="479.70" cy="161.30" r="2.05"/>
<circle class="pt" cx="482.00" cy="161.30" r="2.05"/>
<circle class="pt" cx="484.70" cy="161.30" r="2.05"/>
<circle class="pt" cx="487.00" cy="161.30" r="2.05"/>
<circle class="pt" cx="484.30" cy="177.50" r="2.05"/>
<circle class="pt" cx="485.20" cy="149.30" r="2.05"/>
<circle class="pt" cx="485.20" cy="154.80" r="2.05"/>
<circle class="pt" cx="484.70" cy="157.60" r="2.05"/>
<circle class="pt" cx="487.70" cy="183.60" r="2.05"/>
<circle class="pt" cx="485.00" cy="166.40" r="2.05"/>
<circle class="pt" cx="488.70" cy="172.20" r="2.05"/>
<circle class="pt" cx="489.90" cy="166.40" r="2.05"/>
<circle class="pt" cx="491.70" cy="163.40" r="2.05"/>
<circle class="pt" cx="490.50" cy="157.60" r="2.05"/>
<circle class="pt" cx="492.60" cy="169.00" r="2.05"/>
<circle class="pt" cx="493.50" cy="172.20" r="2.05"/>
<circle class="pt" cx="496.40" cy="146.20" r="2.05"/>
<circle class="pt" cx="496.40" cy="152.10" r="2.05"/>
<circle class="pt" cx="495.70" cy="161.10" r="2.05"/>
<circle class="pt" cx="497.00" cy="163.40" r="2.05"/>
<circle class="pt" cx="497.00" cy="169.90" r="2.05"/>
<circle class="pt" cx="498.40" cy="172.20" r="2.05"/>
<circle class="pt" cx="501.70" cy="166.40" r="2.05"/>
<circle class="pt" cx="502.80" cy="161.10" r="2.05"/>
<circle class="pt" cx="504.50" cy="177.50" r="2.05"/>
<circle class="pt" cx="505.20" cy="143.40" r="2.05"/>
<circle class="pt" cx="506.60" cy="149.30" r="2.05"/>
<circle class="pt" cx="506.60" cy="152.10" r="2.05"/>
<circle class="pt" cx="506.60" cy="166.40" r="2.05"/>
<circle class="pt" cx="508.70" cy="166.40" r="2.05"/>
<circle class="pt" cx="511.00" cy="166.40" r="2.05"/>
<circle class="pt" cx="512.80" cy="163.40" r="2.05"/>
<circle class="pt" cx="517.20" cy="166.40" r="2.05"/>
<circle class="pt" cx="516.70" cy="172.20" r="2.05"/>
<circle class="pt" cx="513.30" cy="175.20" r="2.05"/>
<circle class="pt" cx="523.00" cy="157.60" r="2.05"/>
<circle class="pt" cx="526.00" cy="161.10" r="2.05"/>
<circle class="pt" cx="528.60" cy="157.60" r="2.05"/>
<circle class="pt" cx="536.20" cy="154.80" r="2.05"/>
<circle class="pt" cx="541.40" cy="154.80" r="2.05"/>
<circle class="pt" cx="544.10" cy="154.80" r="2.05"/>
<circle class="pt" cx="565.20" cy="146.20" r="2.05"/>
<circle class="pt" cx="578.40" cy="155.00" r="2.05"/>
<circle class="pt" cx="592.60" cy="169.70" r="2.05"/>
<circle class="pt" cx="608.60" cy="172.40" r="2.05"/>
</g>
<g>
<line class="ax" x1="384.20" y1="360.50" x2="672.60" y2="360.50"/>
<line class="gr" x1="384.20" y1="351.09" x2="672.60" y2="351.09"/>
<line class="gr" x1="384.20" y1="341.68" x2="672.60" y2="341.68"/>
<line class="gr" x1="384.20" y1="332.27" x2="672.60" y2="332.27"/>
<line class="gr" x1="384.20" y1="322.86" x2="672.60" y2="322.86"/>
<line class="gr" x1="384.20" y1="313.45" x2="672.60" y2="313.45"/>
<line class="gr" x1="384.20" y1="304.04" x2="672.60" y2="304.04"/>
<line class="gr" x1="384.20" y1="294.63" x2="672.60" y2="294.63"/>
<line class="gr" x1="384.20" y1="285.22" x2="672.60" y2="285.22"/>
<line class="gr" x1="384.20" y1="275.81" x2="672.60" y2="275.81"/>
<line class="gr" x1="384.20" y1="266.40" x2="672.60" y2="266.40"/>
<line class="ax" x1="384.20" y1="266.40" x2="384.20" y2="360.50"/>
<line class="gr" x1="441.88" y1="266.40" x2="441.88" y2="360.50"/>
<line class="gr" x1="499.56" y1="266.40" x2="499.56" y2="360.50"/>
<line class="gr" x1="557.24" y1="266.40" x2="557.24" y2="360.50"/>
<line class="gr" x1="614.92" y1="266.40" x2="614.92" y2="360.50"/>
<line class="gr" x1="672.60" y1="266.40" x2="672.60" y2="360.50"/>
<text class="tk" text-anchor="end" transform="translate(377.20 361.40) scale(0.0915 0.1)">0.00</text>
<text class="tk" text-anchor="end" transform="translate(377.20 351.99) scale(0.0915 0.1)">10.00</text>
<text class="tk" text-anchor="end" transform="translate(377.20 342.58) scale(0.0915 0.1)">20.00</text>
<text class="tk" text-anchor="end" transform="translate(377.20 333.17) scale(0.0915 0.1)">30.00</text>
<text class="tk" text-anchor="end" transform="translate(377.20 323.76) scale(0.0915 0.1)">40.00</text>
<text class="tk" text-anchor="end" transform="translate(377.20 314.35) scale(0.0915 0.1)">50.00</text>
<text class="tk" text-anchor="end" transform="translate(377.20 304.94) scale(0.0915 0.1)">60.00</text>
<text class="tk" text-anchor="end" transform="translate(377.20 295.53) scale(0.0915 0.1)">70.00</text>
<text class="tk" text-anchor="end" transform="translate(377.20 286.12) scale(0.0915 0.1)">80.00</text>
<text class="tk" text-anchor="end" transform="translate(377.20 276.71) scale(0.0915 0.1)">90.00</text>
<text class="tk" text-anchor="end" transform="translate(377.20 267.30) scale(0.0915 0.1)">100.00</text>
<text class="tk" text-anchor="middle" transform="translate(384.20 370.50) scale(0.0890 0.1)">0.00</text>
<text class="tk" text-anchor="middle" transform="translate(441.88 370.50) scale(0.0890 0.1)">5.00</text>
<text class="tk" text-anchor="middle" transform="translate(499.56 370.50) scale(0.0890 0.1)">10.00</text>
<text class="tk" text-anchor="middle" transform="translate(557.24 370.50) scale(0.0890 0.1)">15.00</text>
<text class="tk" text-anchor="middle" transform="translate(614.92 370.50) scale(0.0890 0.1)">20.00</text>
<text class="tk" text-anchor="middle" transform="translate(672.60 370.50) scale(0.0890 0.1)">25.00</text>
<text class="tt" x="505.25" y="384.20" textLength="47.30" lengthAdjust="spacingAndGlyphs">Fat mass (Kg)</text>
<text class="tt" transform="translate(351.20 317.50) rotate(-90)" x="-19.35" y="0" textLength="38.70" lengthAdjust="spacingAndGlyphs">Power (W)</text>
<line class="tl" x1="396.69" y1="301.30" x2="607.55" y2="311.47"/>
<circle class="pt" cx="398.24" cy="279.89" r="2.05"/>
<circle class="pt" cx="410.58" cy="286.63" r="2.05"/>
<circle class="pt" cx="396.69" cy="300.98" r="2.05"/>
<circle class="pt" cx="401.09" cy="303.01" r="2.05"/>
<circle class="pt" cx="403.19" cy="310.18" r="2.05"/>
<circle class="pt" cx="407.58" cy="298.30" r="2.05"/>
<circle class="pt" cx="406.68" cy="303.01" r="2.05"/>
<circle class="pt" cx="421.27" cy="300.98" r="2.05"/>
<circle class="pt" cx="424.57" cy="300.98" r="2.05"/>
<circle class="pt" cx="422.87" cy="307.72" r="2.05"/>
<circle class="pt" cx="425.07" cy="312.43" r="2.05"/>
<circle class="pt" cx="423.37" cy="321.85" r="2.05"/>
<circle class="pt" cx="428.67" cy="300.98" r="2.05"/>
<circle class="pt" cx="431.27" cy="289.10" r="2.05"/>
<circle class="pt" cx="432.17" cy="305.47" r="2.05"/>
<circle class="pt" cx="436.16" cy="300.98" r="2.05"/>
<circle class="pt" cx="436.86" cy="305.47" r="2.05"/>
<circle class="pt" cx="438.26" cy="303.01" r="2.05"/>
<circle class="pt" cx="441.46" cy="298.30" r="2.05"/>
<circle class="pt" cx="441.46" cy="302.05" r="2.05"/>
<circle class="pt" cx="443.56" cy="303.01" r="2.05"/>
<circle class="pt" cx="444.76" cy="296.05" r="2.05"/>
<circle class="pt" cx="443.96" cy="307.72" r="2.05"/>
<circle class="pt" cx="443.96" cy="314.90" r="2.05"/>
<circle class="pt" cx="447.96" cy="298.30" r="2.05"/>
<circle class="pt" cx="447.56" cy="306.76" r="2.05"/>
<circle class="pt" cx="449.15" cy="286.63" r="2.05"/>
<circle class="pt" cx="451.95" cy="289.10" r="2.05"/>
<circle class="pt" cx="451.45" cy="310.18" r="2.05"/>
<circle class="pt" cx="453.15" cy="310.18" r="2.05"/>
<circle class="pt" cx="456.35" cy="307.72" r="2.05"/>
<circle class="pt" cx="456.35" cy="309.65" r="2.05"/>
<circle class="pt" cx="458.45" cy="301.09" r="2.05"/>
<circle class="pt" cx="459.35" cy="305.47" r="2.05"/>
<circle class="pt" cx="458.45" cy="317.14" r="2.05"/>
<circle class="pt" cx="461.15" cy="303.01" r="2.05"/>
<circle class="pt" cx="462.85" cy="305.47" r="2.05"/>
<circle class="pt" cx="464.64" cy="284.38" r="2.05"/>
<circle class="pt" cx="465.14" cy="296.05" r="2.05"/>
<circle class="pt" cx="465.14" cy="301.09" r="2.05"/>
<circle class="pt" cx="465.14" cy="314.90" r="2.05"/>
<circle class="pt" cx="467.24" cy="293.59" r="2.05"/>
<circle class="pt" cx="467.24" cy="303.01" r="2.05"/>
<circle class="pt" cx="467.24" cy="312.43" r="2.05"/>
<circle class="pt" cx="467.24" cy="321.85" r="2.05"/>
<circle class="pt" cx="468.14" cy="307.72" r="2.05"/>
<circle class="pt" cx="469.94" cy="293.59" r="2.05"/>
<circle class="pt" cx="469.04" cy="301.09" r="2.05"/>
<circle class="pt" cx="470.24" cy="307.72" r="2.05"/>
<circle class="pt" cx="472.54" cy="307.72" r="2.05"/>
<circle class="pt" cx="474.84" cy="307.72" r="2.05"/>
<circle class="pt" cx="477.34" cy="307.72" r="2.05"/>
<circle class="pt" cx="474.84" cy="293.59" r="2.05"/>
<circle class="pt" cx="478.73" cy="289.10" r="2.05"/>
<circle class="pt" cx="475.54" cy="303.01" r="2.05"/>
<circle class="pt" cx="476.04" cy="310.18" r="2.05"/>
<circle class="pt" cx="476.04" cy="312.43" r="2.05"/>
<circle class="pt" cx="476.04" cy="317.14" r="2.05"/>
<circle class="pt" cx="479.63" cy="298.30" r="2.05"/>
<circle class="pt" cx="480.43" cy="303.01" r="2.05"/>
<circle class="pt" cx="481.33" cy="310.18" r="2.05"/>
<circle class="pt" cx="483.13" cy="301.09" r="2.05"/>
<circle class="pt" cx="483.63" cy="305.47" r="2.05"/>
<circle class="pt" cx="485.23" cy="298.30" r="2.05"/>
<circle class="pt" cx="486.63" cy="307.72" r="2.05"/>
<circle class="pt" cx="487.83" cy="305.80" r="2.05"/>
<circle class="pt" cx="487.53" cy="314.90" r="2.05"/>
<circle class="pt" cx="487.83" cy="319.39" r="2.05"/>
<circle class="pt" cx="488.93" cy="300.23" r="2.05"/>
<circle class="pt" cx="490.13" cy="298.30" r="2.05"/>
<circle class="pt" cx="493.62" cy="303.01" r="2.05"/>
<circle class="pt" cx="495.02" cy="307.72" r="2.05"/>
<circle class="pt" cx="496.82" cy="293.59" r="2.05"/>
<circle class="pt" cx="496.82" cy="321.85" r="2.05"/>
<circle class="pt" cx="498.92" cy="314.90" r="2.05"/>
<circle class="pt" cx="498.92" cy="317.14" r="2.05"/>
<circle class="pt" cx="498.92" cy="303.01" r="2.05"/>
<circle class="pt" cx="501.22" cy="303.01" r="2.05"/>
<circle class="pt" cx="503.32" cy="303.01" r="2.05"/>
<circle class="pt" cx="505.62" cy="296.05" r="2.05"/>
<circle class="pt" cx="505.62" cy="305.47" r="2.05"/>
<circle class="pt" cx="509.11" cy="298.30" r="2.05"/>
<circle class="pt" cx="510.01" cy="303.01" r="2.05"/>
<circle class="pt" cx="516.51" cy="310.18" r="2.05"/>
<circle class="pt" cx="519.11" cy="307.72" r="2.05"/>
<circle class="pt" cx="522.30" cy="310.18" r="2.05"/>
<circle class="pt" cx="530.20" cy="312.43" r="2.05"/>
<circle class="pt" cx="535.79" cy="312.43" r="2.05"/>
<circle class="pt" cx="538.39" cy="312.43" r="2.05"/>
<circle class="pt" cx="561.28" cy="319.39" r="2.05"/>
<circle class="pt" cx="574.97" cy="312.43" r="2.05"/>
<circle class="pt" cx="590.26" cy="300.76" r="2.05"/>
<circle class="pt" cx="607.84" cy="298.30" r="2.05"/>
</g>
</svg></body></html>
